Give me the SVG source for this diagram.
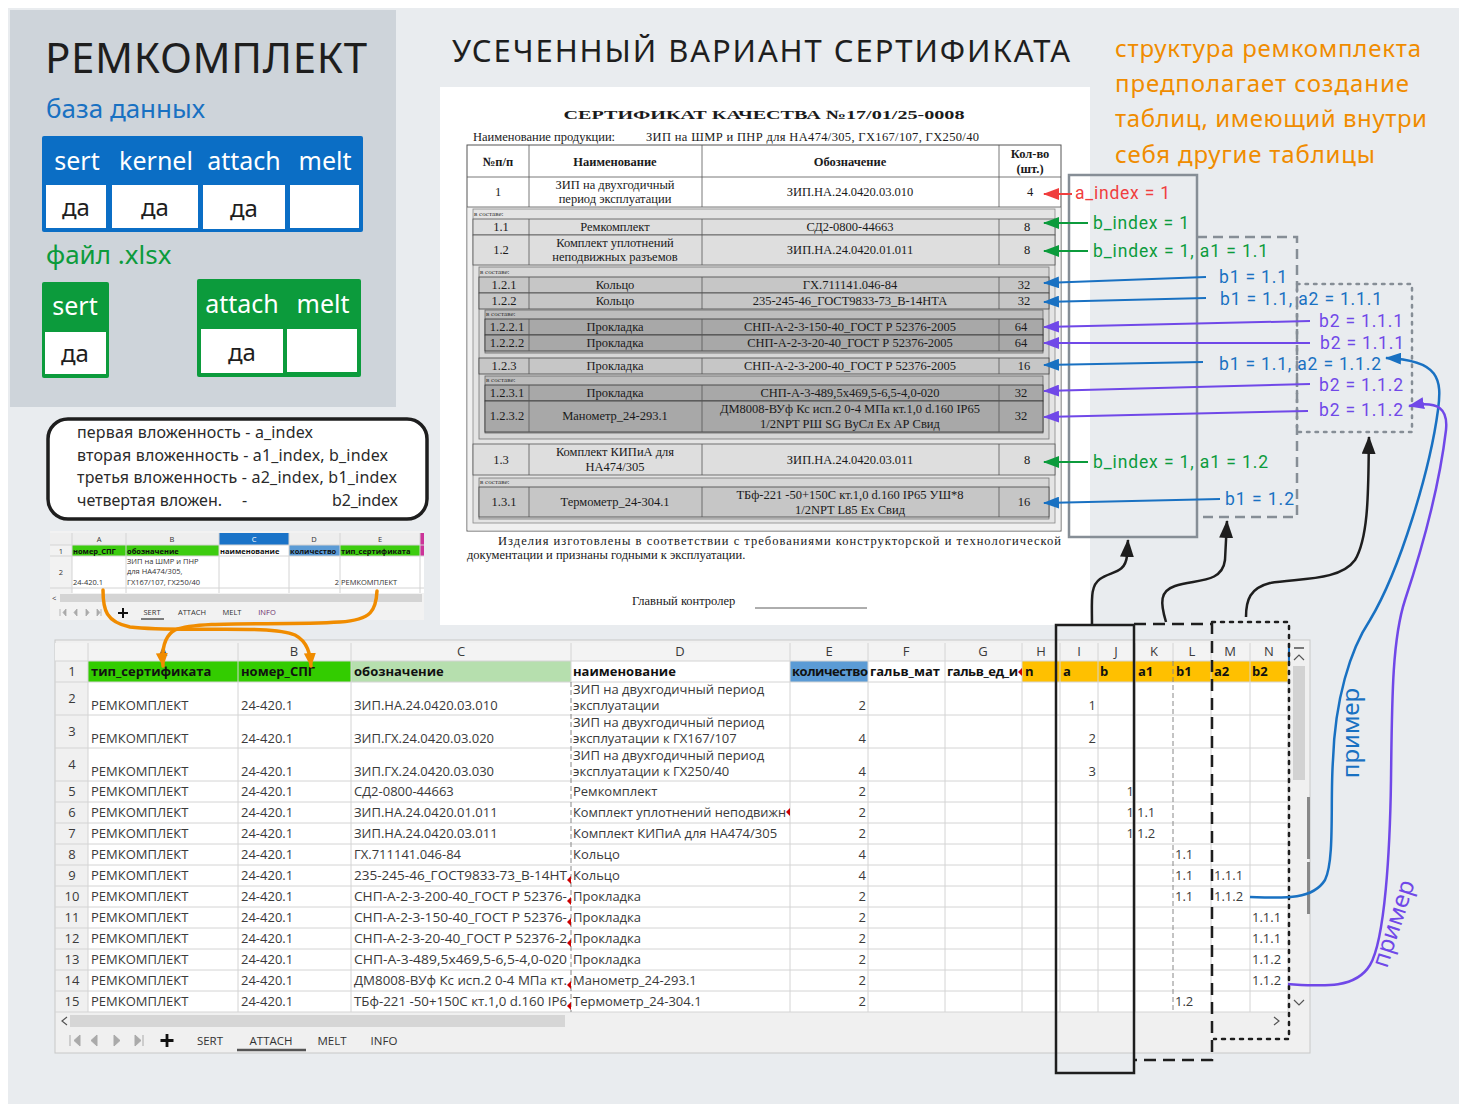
<svg xmlns="http://www.w3.org/2000/svg" width="1467" height="1111" viewBox="0 0 1467 1111">
<defs>
<style>
.h{font-family:"Noto Sans","Open Sans",sans-serif}
.s{font-family:"Liberation Serif","Times New Roman",serif;fill:#1a1a1a;font-size:12.5px}
.m{text-anchor:middle}
.e{text-anchor:end}
.b{font-weight:bold}
.vs{font-size:7px;fill:#333}
.x{font-family:"Open Sans","Noto Sans",sans-serif;fill:#3a3a3a;font-size:13px}
.xh{font-weight:bold;fill:#111}
.xs{font-family:"Open Sans","Noto Sans",sans-serif;fill:#333;font-size:7.5px}
.g{stroke:#d4d4d4;stroke-width:1;fill:none}
.ann{font-family:Roboto,"Noto Sans",sans-serif;font-size:17.5px}
.red{fill:#f03e3e}.grn{fill:#0c9b3c}.blu{fill:#1971c2}.pur{fill:#7048e8}
.lr{stroke:#f03e3e;stroke-width:2;fill:none}
.lg{stroke:#0c9b3c;stroke-width:2;fill:none}
.lb{stroke:#1971c2;stroke-width:2;fill:none}
.lp{stroke:#7048e8;stroke-width:2;fill:none}
.lk{stroke:#1e1e1e;stroke-width:2.5;fill:none}
.lo{stroke:#f08c00;stroke-width:3.5;fill:none;stroke-linecap:round}
.r2{fill:#dedede;stroke:#555;stroke-width:0.8}
.r3{fill:#c6c6c6;stroke:#444;stroke-width:0.8}
.r4{fill:#a8a8a8;stroke:#333;stroke-width:0.8}
.cl{stroke:#555;stroke-width:0.8}
.tab{font-family:"Open Sans","Noto Sans",sans-serif;fill:#333;font-size:11.5px}
</style>
<marker id="mR" viewBox="0 0 16 12" refX="15" refY="6" markerWidth="16" markerHeight="12" markerUnits="userSpaceOnUse" orient="auto"><path d="M0,0L16,6L0,12z" fill="#f03e3e"/></marker>
<marker id="mG" viewBox="0 0 16 12" refX="15" refY="6" markerWidth="16" markerHeight="12" markerUnits="userSpaceOnUse" orient="auto"><path d="M0,0L16,6L0,12z" fill="#0c9b3c"/></marker>
<marker id="mB" viewBox="0 0 16 12" refX="15" refY="6" markerWidth="16" markerHeight="12" markerUnits="userSpaceOnUse" orient="auto"><path d="M0,0L16,6L0,12z" fill="#1971c2"/></marker>
<marker id="mP" viewBox="0 0 16 12" refX="15" refY="6" markerWidth="16" markerHeight="12" markerUnits="userSpaceOnUse" orient="auto"><path d="M0,0L16,6L0,12z" fill="#7048e8"/></marker>
<marker id="mK" viewBox="0 0 18 14" refX="17" refY="7" markerWidth="18" markerHeight="14" markerUnits="userSpaceOnUse" orient="auto"><path d="M0,0L18,7L0,14z" fill="#1e1e1e"/></marker>
<marker id="mO" viewBox="0 0 14 12" refX="13" refY="6" markerWidth="14" markerHeight="12" markerUnits="userSpaceOnUse" orient="auto"><path d="M0,0L14,6L0,12z" fill="#f08c00"/></marker>
</defs>

<rect x="0" y="0" width="1467" height="1111" fill="#ffffff"/>
<rect x="8" y="8" width="1451" height="1096" fill="#e9ecef"/>

<!-- left panel -->
<g id="panel-remkomplekt">
<rect x="10" y="10" width="386" height="397" fill="#ced4da"/>
<text class="h" x="45" y="73" font-size="42" fill="#1e1e1e" textLength="322">РЕМКОМПЛЕКТ</text>
<text class="h" x="46" y="118" font-size="26" fill="#1971c2">база данных</text>
<g id="db-table">
<rect x="42" y="136" width="321" height="96" rx="2" fill="#0b6ec5"/>
<text class="h m" x="77" y="170" font-size="25" fill="#fff">sert</text>
<text class="h m" x="156" y="170" font-size="25" fill="#fff">kernel</text>
<text class="h m" x="244" y="170" font-size="25" fill="#fff">attach</text>
<text class="h m" x="325" y="170" font-size="25" fill="#fff">melt</text>
<rect x="46" y="185" width="60" height="43" fill="#fff"/>
<rect x="112" y="185" width="86" height="43" fill="#fff"/>
<rect x="203" y="185" width="82" height="44" fill="#fff"/>
<rect x="290" y="185" width="69" height="43" fill="#fff"/>
<text class="h m" x="76" y="216" font-size="24" fill="#1e1e1e">да</text>
<text class="h m" x="155" y="216" font-size="24" fill="#1e1e1e">да</text>
<text class="h m" x="244" y="217" font-size="24" fill="#1e1e1e">да</text>
</g>
<text class="h" x="46" y="264" font-size="26" fill="#0c9b3c">файл .xlsx</text>
<g id="xlsx-sert">
<rect x="42" y="282" width="67" height="96" rx="2" fill="#0c9b3c"/>
<text class="h m" x="75" y="315" font-size="25" fill="#fff">sert</text>
<rect x="45" y="332" width="61" height="42" fill="#fff"/>
<text class="h m" x="75" y="362" font-size="24" fill="#1e1e1e">да</text>
</g>
<g id="xlsx-attach-melt">
<rect x="197" y="279" width="164" height="98" rx="2" fill="#0c9b3c"/>
<text class="h m" x="242" y="313" font-size="25" fill="#fff">attach</text>
<text class="h m" x="323" y="313" font-size="25" fill="#fff">melt</text>
<rect x="201" y="329" width="82" height="44" fill="#fff"/>
<rect x="287" y="329" width="70" height="43" fill="#fff"/>
<text class="h m" x="242" y="361" font-size="24" fill="#1e1e1e">да</text>
</g>
</g>

<!-- note box -->
<g id="note">
<rect x="48" y="419" width="379" height="100" rx="20" fill="#fff" stroke="#1e1e1e" stroke-width="3.5"/>
<text class="h" x="77" y="438" font-size="16" fill="#2a2a2a" textLength="236">первая вложенность - a_index</text>
<text class="h" x="77" y="461" font-size="16" fill="#2a2a2a" textLength="311">вторая вложенность - a1_index, b_index</text>
<text class="h" x="77" y="483" font-size="16" fill="#2a2a2a" textLength="320">третья вложенность - a2_index, b1_index</text>
<text class="h" x="77" y="506" font-size="16" fill="#2a2a2a">четвертая вложен.</text>
<text class="h" x="242" y="506" font-size="16" fill="#2a2a2a">-</text>
<text class="h" x="332" y="506" font-size="16" fill="#2a2a2a" textLength="66">b2_index</text>
</g>

<!-- titles -->
<g id="title">
<text class="h" x="452" y="62" font-size="31" fill="#1e1e1e" textLength="618">УСЕЧЕННЫЙ ВАРИАНТ СЕРТИФИКАТА</text>
</g>
<g id="orange-note">
<text class="h" x="1115" y="57" font-size="24" fill="#f08c00" textLength="306">структура ремкомплекта</text>
<text class="h" x="1115" y="92" font-size="24" fill="#f08c00" textLength="294">предполагает создание</text>
<text class="h" x="1115" y="127" font-size="24" fill="#f08c00" textLength="312">таблиц, имеющий внутри</text>
<text class="h" x="1115" y="163" font-size="24" fill="#f08c00" textLength="260">себя другие таблицы</text>
</g>

<!-- certificate -->
<g id="certificate">
<rect x="440" y="87" width="650" height="538" fill="#fff"/>
<text class="s m b" x="764" y="119" font-size="22" textLength="401" lengthAdjust="spacingAndGlyphs">СЕРТИФИКАТ КАЧЕСТВА №17/01/25-0008</text>
<text class="s" x="473" y="141" font-size="11.5">Наименование продукции:</text>
<text class="s" x="646" y="141" font-size="11.5" textLength="333">ЗИП на ШМР и ПНР для НА474/305, ГХ167/107, ГХ250/40</text>
<rect x="467" y="145" width="594" height="386" fill="#fff" stroke="#555" stroke-width="1"/>
<rect x="467.5" y="207" width="593" height="323.5" fill="#f0f0f0"/>
<path class="cl" d="M467,177H1061M467,207H1061M529,145V207M702,145V207M999,145V207"/>
<text class="s m b" x="498" y="166" font-size="11.5">№п/п</text>
<text class="s m b" x="615" y="166" font-size="11.5">Наименование</text>
<text class="s m b" x="850" y="166" font-size="11.5">Обозначение</text>
<text class="s m b" x="1030" y="158" font-size="11.5">Кол-во</text>
<text class="s m b" x="1030" y="173" font-size="11.5">(шт.)</text>
<text class="s m" x="498" y="196">1</text>
<text class="s m" x="615" y="189">ЗИП на двухгодичный</text>
<text class="s m" x="615" y="203">период эксплуатации</text>
<text class="s m" x="850" y="196">ЗИП.НА.24.0420.03.010</text>
<text class="s m" x="1030" y="196">4</text>
<!-- level 2 container -->
<rect x="473" y="209" width="582" height="314" fill="#e4e4e4" stroke="#888" stroke-width="0.8"/>
<text class="s vs" x="474" y="216">в составе:</text>
<rect class="r2" x="473" y="219" width="582" height="16"/>
<rect class="r2" x="473" y="235" width="582" height="30"/>
<path class="cl" d="M529,219V265M702,219V265M999,219V265"/>
<text class="s m" x="501" y="231">1.1</text>
<text class="s m" x="615" y="231">Ремкомплект</text>
<text class="s m" x="850" y="231">СД2-0800-44663</text>
<text class="s m" x="1027" y="231">8</text>
<text class="s m" x="501" y="254">1.2</text>
<text class="s m" x="615" y="247">Комплект уплотнений</text>
<text class="s m" x="615" y="261">неподвижных разъемов</text>
<text class="s m" x="850" y="254">ЗИП.НА.24.0420.01.011</text>
<text class="s m" x="1027" y="254">8</text>
<!-- level 3 container a -->
<rect x="479" y="267" width="570" height="172" fill="#d6d6d6" stroke="#777" stroke-width="0.8"/>
<text class="s vs" x="480" y="274">в составе:</text>
<rect class="r3" x="479" y="277" width="570" height="16"/>
<rect class="r3" x="479" y="293" width="570" height="16"/>
<path class="cl" d="M529,277V309M702,277V309M999,277V309"/>
<text class="s m" x="504" y="289">1.2.1</text>
<text class="s m" x="615" y="289">Кольцо</text>
<text class="s m" x="850" y="289">ГХ.711141.046-84</text>
<text class="s m" x="1024" y="289">32</text>
<text class="s m" x="504" y="305">1.2.2</text>
<text class="s m" x="615" y="305">Кольцо</text>
<text class="s m" x="850" y="305">235-245-46_ГОСТ9833-73_В-14НТА</text>
<text class="s m" x="1024" y="305">32</text>
<!-- level 4 container a -->
<rect x="485" y="310" width="558" height="43" fill="#bdbdbd" stroke="#666" stroke-width="0.8"/>
<text class="s vs" x="486" y="316">в составе:</text>
<rect class="r4" x="485" y="319" width="558" height="16"/>
<rect class="r4" x="485" y="335" width="558" height="16"/>
<path class="cl" d="M529,319V351M702,319V351M999,319V351"/>
<text class="s m" x="507" y="331" font-size="11.5">1.2.2.1</text>
<text class="s m" x="615" y="331">Прокладка</text>
<text class="s m" x="850" y="331">СНП-А-2-3-150-40_ГОСТ Р 52376-2005</text>
<text class="s m" x="1021" y="331">64</text>
<text class="s m" x="507" y="347" font-size="11.5">1.2.2.2</text>
<text class="s m" x="615" y="347">Прокладка</text>
<text class="s m" x="850" y="347">СНП-А-2-3-20-40_ГОСТ Р 52376-2005</text>
<text class="s m" x="1021" y="347">64</text>
<rect class="r3" x="479" y="358" width="570" height="16"/>
<path class="cl" d="M529,358V374M702,358V374M999,358V374"/>
<text class="s m" x="504" y="370">1.2.3</text>
<text class="s m" x="615" y="370">Прокладка</text>
<text class="s m" x="850" y="370">СНП-А-2-3-200-40_ГОСТ Р 52376-2005</text>
<text class="s m" x="1024" y="370">16</text>
<!-- level 4 container b -->
<rect x="485" y="376" width="558" height="57" fill="#bdbdbd" stroke="#666" stroke-width="0.8"/>
<text class="s vs" x="486" y="382">в составе:</text>
<rect class="r4" x="485" y="385" width="558" height="16"/>
<rect class="r4" x="485" y="401" width="558" height="31"/>
<path class="cl" d="M529,385V432M702,385V432M999,385V432"/>
<text class="s m" x="507" y="397" font-size="11.5">1.2.3.1</text>
<text class="s m" x="615" y="397">Прокладка</text>
<text class="s m" x="850" y="397">СНП-А-3-489,5х469,5-6,5-4,0-020</text>
<text class="s m" x="1021" y="397">32</text>
<text class="s m" x="507" y="420" font-size="11.5">1.2.3.2</text>
<text class="s m" x="615" y="420">Манометр_24-293.1</text>
<text class="s m" x="850" y="413">ДМ8008-ВУф Кс исп.2 0-4 МПа кт.1,0 d.160 IP65</text>
<text class="s m" x="850" y="428">1/2NPT РШ SG ВуСл Ex АР Свид</text>
<text class="s m" x="1021" y="420">32</text>
<rect class="r2" x="473" y="444" width="582" height="31"/>
<path class="cl" d="M529,444V475M702,444V475M999,444V475"/>
<text class="s m" x="501" y="464">1.3</text>
<text class="s m" x="615" y="456">Комплект КИПиА для</text>
<text class="s m" x="615" y="471">НА474/305</text>
<text class="s m" x="850" y="464">ЗИП.НА.24.0420.03.011</text>
<text class="s m" x="1027" y="464">8</text>
<!-- level 3 container b -->
<rect x="479" y="478" width="570" height="41" fill="#d6d6d6" stroke="#777" stroke-width="0.8"/>
<text class="s vs" x="480" y="484">в составе:</text>
<rect class="r3" x="479" y="487" width="570" height="30"/>
<path class="cl" d="M529,487V517M702,487V517M999,487V517"/>
<text class="s m" x="504" y="506">1.3.1</text>
<text class="s m" x="615" y="506">Термометр_24-304.1</text>
<text class="s m" x="850" y="499">ТБф-221 -50+150С кт.1,0 d.160 IP65 УШ*8</text>
<text class="s m" x="850" y="514">1/2NPT L85 Ex Свид</text>
<text class="s m" x="1024" y="506">16</text>
<text class="s" x="498" y="545" textLength="563" lengthAdjust="spacing">Изделия изготовлены в соответствии с требованиями конструкторской и технологической</text>
<text class="s" x="467" y="559">документации и признаны годными к эксплуатации.</text>
<text class="s" x="632" y="605">Главный контролер</text>
<path d="M755,608H867" stroke="#333" stroke-width="0.8"/>
</g>

<!-- annotation boxes -->
<g id="annotation-frames">
<rect x="1069" y="175" width="128" height="362" fill="none" stroke="#868e96" stroke-width="2.5"/>
<path d="M1197,237H1297V517H1197" fill="none" stroke="#868e96" stroke-width="2.5" stroke-dasharray="10 6"/>
<rect x="1297" y="284" width="115" height="148" fill="none" stroke="#868e96" stroke-width="2.5" stroke-dasharray="2.5 6" stroke-linecap="round"/>
</g>

<g id="annotation-labels">
<text class="ann red" x="1075" y="199" textLength="95">a_index = 1</text>
<text class="ann grn" x="1093" y="229" textLength="96">b_index = 1</text>
<text class="ann grn" x="1093" y="257" textLength="175">b_index = 1, a1 = 1.1</text>
<text class="ann blu" x="1219" y="283" textLength="68">b1 = 1.1</text>
<text class="ann blu" x="1220" y="305" textLength="162">b1 = 1.1, a2 = 1.1.1</text>
<text class="ann pur" x="1319" y="327" textLength="84">b2 = 1.1.1</text>
<text class="ann pur" x="1320" y="349" textLength="84">b2 = 1.1.1</text>
<text class="ann blu" x="1219" y="370" textLength="162">b1 = 1.1, a2 = 1.1.2</text>
<text class="ann pur" x="1319" y="391" textLength="84">b2 = 1.1.2</text>
<text class="ann pur" x="1319" y="416" textLength="84">b2 = 1.1.2</text>
<text class="ann grn" x="1093" y="468" textLength="175">b_index = 1, a1 = 1.2</text>
<text class="ann blu" x="1225" y="505" textLength="69">b1 = 1.2</text>
</g>

<!-- small spreadsheet -->
<g id="sheet-sert">
<rect x="50" y="531" width="374" height="89" fill="#f2f2f2"/>
<rect x="72" y="545" width="352" height="48" fill="#fff"/>
<rect x="50" y="533" width="374" height="12" fill="#eeeeee"/>
<rect x="219" y="533" width="70" height="12" fill="#1a73c8"/>
<rect x="72" y="545" width="147" height="11" fill="#3dcc0f"/>
<rect x="289" y="545" width="51" height="11" fill="#5b9bd5"/>
<rect x="340" y="545" width="80" height="11" fill="#3dcc0f"/>
<rect x="420" y="533" width="4" height="23" fill="#cc3399"/>
<path class="g" d="M72,533V593M126,533V593M219,533V593M289,533V593M340,533V593M420,533V593M50,545H424M50,556H424M50,588H424"/>
<text class="xs m" x="99" y="542">A</text>
<text class="xs m" x="172" y="542">B</text>
<text class="xs m" x="254" y="542" style="fill:#fff">C</text>
<text class="xs m" x="314" y="542">D</text>
<text class="xs m" x="380" y="542">E</text>
<text class="xs m" x="61" y="554">1</text>
<text class="xs m" x="61" y="575">2</text>
<text class="xs b" x="73" y="554" style="fill:#111">номер_СПГ</text>
<text class="xs b" x="127" y="554" style="fill:#111">обозначение</text>
<text class="xs b" x="220" y="554" style="fill:#111">наименование</text>
<text class="xs b" x="290" y="554" style="fill:#111">количество</text>
<text class="xs b" x="341" y="554" style="fill:#111">тип_сертификата</text>
<text class="xs" x="73" y="585">24-420.1</text>
<text class="xs" x="127" y="564">ЗИП на ШМР и ПНР</text>
<text class="xs" x="127" y="574">для НА474/305,</text>
<text class="xs" x="127" y="585">ГХ167/107, ГХ250/40</text>
<text class="xs e" x="339" y="585">2</text>
<text class="xs" x="341" y="585">РЕМКОМПЛЕКТ</text>
<rect x="60" y="594" width="362" height="8" fill="#d4d4d4"/>
<text class="xs" x="52" y="601">&lt;</text>
<path d="M60,609V616M63,612.5L66,609V616zM77,609L74,612.5L77,616zM86,609L89,612.5L86,616zM97,609L100,612.5L97,616zM101,609V616" stroke="#aaa" stroke-width="0.8" fill="#aaa"/>
<path d="M123,608V618M118,613H128" stroke="#111" stroke-width="2"/>
<text class="xs m" x="152" y="615" font-size="7">SERT</text>
<path d="M141,619H164" stroke="#555" stroke-width="1.5"/>
<text class="xs m" x="192" y="615" font-size="7">ATTACH</text>
<text class="xs m" x="232" y="615" font-size="7">MELT</text>
<text class="xs m" x="267" y="615" font-size="7" style="fill:#6b2d6b">INFO</text>
</g>

<!-- big spreadsheet -->
<g id="sheet-attach">
<rect x="55" y="640" width="1255" height="413" fill="#f0f0f0" stroke="#c8c8c8" stroke-width="1"/>
<rect x="88" y="661" width="1200" height="351" fill="#fff"/>
<rect x="55" y="643" width="1233" height="18" fill="#f3f3f3"/>
<rect x="88" y="661" width="263" height="21" fill="#33cc00"/>
<rect x="351" y="661" width="220" height="21" fill="#b6dfae"/>
<rect x="790" y="661" width="78" height="21" fill="#5b9bd5"/>
<rect x="1022" y="661" width="266" height="21" fill="#ffc000"/>
<path class="g" d="M88,643V1012M238,643V1012M351,643V1012M571,643V682M790,643V1012M868,643V1012M945,643V1012M1022,643V1012M1060,643V1012M1098,643V1012M1135,643V1012M1211,643V1012M1250,643V1012M1288,643V1012M1173,643V661"/>
<path class="g" d="M55,661H1288M55,682H1288M55,715H1288M55,748H1288M55,781H1288M55,802H1288M55,823H1288M55,844H1288M55,865H1288M55,886H1288M55,907H1288M55,928H1288M55,949H1288M55,970H1288M55,991H1288M55,1012H1288"/>
<path d="M571,682V1012M1173,661V1012" stroke="#888" stroke-width="1" stroke-dasharray="5 3"/>
<g>
<text class="x m" x="163" y="656">A</text><text class="x m" x="294" y="656">B</text><text class="x m" x="461" y="656">C</text><text class="x m" x="680" y="656">D</text><text class="x m" x="829" y="656">E</text><text class="x m" x="906" y="656">F</text><text class="x m" x="983" y="656">G</text><text class="x m" x="1041" y="656">H</text><text class="x m" x="1079" y="656">I</text><text class="x m" x="1116" y="656">J</text><text class="x m" x="1154" y="656">K</text><text class="x m" x="1192" y="656">L</text><text class="x m" x="1230" y="656">M</text><text class="x m" x="1269" y="656">N</text>
</g>
<g>
<text class="x m" x="72" y="676">1</text><text class="x m" x="72" y="703">2</text><text class="x m" x="72" y="736">3</text><text class="x m" x="72" y="769">4</text><text class="x m" x="72" y="796">5</text><text class="x m" x="72" y="817">6</text><text class="x m" x="72" y="838">7</text><text class="x m" x="72" y="859">8</text><text class="x m" x="72" y="880">9</text><text class="x m" x="72" y="901">10</text><text class="x m" x="72" y="922">11</text><text class="x m" x="72" y="943">12</text><text class="x m" x="72" y="964">13</text><text class="x m" x="72" y="985">14</text><text class="x m" x="72" y="1006">15</text>
</g>
<g>
<text class="x xh" x="91" y="676">тип_сертификата</text>
<text class="x xh" x="241" y="676">номер_СПГ</text>
<text class="x xh" x="354" y="676">обозначение</text>
<text class="x xh" x="573" y="676">наименование</text>
<text class="x xh" x="792" y="676" textLength="76">количество</text>
<text class="x xh" x="870" y="676">гальв_мат</text>
<text class="x xh" x="947" y="676" textLength="71">гальв_ед_и</text>
<text class="x xh" x="1025" y="676">n</text>
<text class="x xh" x="1063" y="676">a</text>
<text class="x xh" x="1100" y="676">b</text>
<text class="x xh" x="1138" y="676">a1</text>
<text class="x xh" x="1176" y="676">b1</text>
<text class="x xh" x="1214" y="676">a2</text>
<text class="x xh" x="1252" y="676">b2</text>
</g>
<path d="M1022,668L1018,672L1022,676z" fill="#c00"/>
<g>
<text class="x" x="91" y="710">РЕМКОМПЛЕКТ</text><text class="x" x="241" y="710">24-420.1</text>
<text class="x" x="91" y="743">РЕМКОМПЛЕКТ</text><text class="x" x="241" y="743">24-420.1</text>
<text class="x" x="91" y="776">РЕМКОМПЛЕКТ</text><text class="x" x="241" y="776">24-420.1</text>
<text class="x" x="91" y="796">РЕМКОМПЛЕКТ</text><text class="x" x="241" y="796">24-420.1</text>
<text class="x" x="91" y="817">РЕМКОМПЛЕКТ</text><text class="x" x="241" y="817">24-420.1</text>
<text class="x" x="91" y="838">РЕМКОМПЛЕКТ</text><text class="x" x="241" y="838">24-420.1</text>
<text class="x" x="91" y="859">РЕМКОМПЛЕКТ</text><text class="x" x="241" y="859">24-420.1</text>
<text class="x" x="91" y="880">РЕМКОМПЛЕКТ</text><text class="x" x="241" y="880">24-420.1</text>
<text class="x" x="91" y="901">РЕМКОМПЛЕКТ</text><text class="x" x="241" y="901">24-420.1</text>
<text class="x" x="91" y="922">РЕМКОМПЛЕКТ</text><text class="x" x="241" y="922">24-420.1</text>
<text class="x" x="91" y="943">РЕМКОМПЛЕКТ</text><text class="x" x="241" y="943">24-420.1</text>
<text class="x" x="91" y="964">РЕМКОМПЛЕКТ</text><text class="x" x="241" y="964">24-420.1</text>
<text class="x" x="91" y="985">РЕМКОМПЛЕКТ</text><text class="x" x="241" y="985">24-420.1</text>
<text class="x" x="91" y="1006">РЕМКОМПЛЕКТ</text><text class="x" x="241" y="1006">24-420.1</text>
</g>
<g>
<text class="x" x="354" y="710">ЗИП.НА.24.0420.03.010</text>
<text class="x" x="354" y="743">ЗИП.ГХ.24.0420.03.020</text>
<text class="x" x="354" y="776">ЗИП.ГХ.24.0420.03.030</text>
<text class="x" x="354" y="796">СД2-0800-44663</text>
<text class="x" x="354" y="817">ЗИП.НА.24.0420.01.011</text>
<text class="x" x="354" y="838">ЗИП.НА.24.0420.03.011</text>
<text class="x" x="354" y="859">ГХ.711141.046-84</text>
<text class="x" x="354" y="880" textLength="213" lengthAdjust="spacingAndGlyphs">235-245-46_ГОСТ9833-73_В-14НТ</text>
<text class="x" x="354" y="901" textLength="213" lengthAdjust="spacingAndGlyphs">СНП-А-2-3-200-40_ГОСТ Р 52376-</text>
<text class="x" x="354" y="922" textLength="213" lengthAdjust="spacingAndGlyphs">СНП-А-2-3-150-40_ГОСТ Р 52376-</text>
<text class="x" x="354" y="943" textLength="213" lengthAdjust="spacingAndGlyphs">СНП-А-2-3-20-40_ГОСТ Р 52376-2</text>
<text class="x" x="354" y="964" textLength="213" lengthAdjust="spacingAndGlyphs">СНП-А-3-489,5х469,5-6,5-4,0-020</text>
<text class="x" x="354" y="985" textLength="213" lengthAdjust="spacingAndGlyphs">ДМ8008-ВУф Кс исп.2 0-4 МПа кт.</text>
<text class="x" x="354" y="1006" textLength="213" lengthAdjust="spacingAndGlyphs">ТБф-221 -50+150С кт.1,0 d.160 IP6</text>
<path d="M571,876L567,880L571,884zM571,897L567,901L571,905zM571,918L567,922L571,926zM571,939L567,943L571,947zM571,981L567,985L571,989zM571,1002L567,1006L571,1010z" fill="#c00"/>
</g>
<g>
<text class="x" x="573" y="694">ЗИП на двухгодичный период</text>
<text class="x" x="573" y="710">эксплуатации</text>
<text class="x" x="573" y="727">ЗИП на двухгодичный период</text>
<text class="x" x="573" y="743">эксплуатации к ГХ167/107</text>
<text class="x" x="573" y="760">ЗИП на двухгодичный период</text>
<text class="x" x="573" y="776">эксплуатации к ГХ250/40</text>
<text class="x" x="573" y="796">Ремкомплект</text>
<text class="x" x="573" y="817" textLength="213" lengthAdjust="spacingAndGlyphs">Комплект уплотнений неподвижн</text>
<text class="x" x="573" y="838">Комплект КИПиА для НА474/305</text>
<text class="x" x="573" y="859">Кольцо</text>
<text class="x" x="573" y="880">Кольцо</text>
<text class="x" x="573" y="901">Прокладка</text>
<text class="x" x="573" y="922">Прокладка</text>
<text class="x" x="573" y="943">Прокладка</text>
<text class="x" x="573" y="964">Прокладка</text>
<text class="x" x="573" y="985">Манометр_24-293.1</text>
<text class="x" x="573" y="1006">Термометр_24-304.1</text>
<path d="M790,808L786,812L790,816z" fill="#c00"/>
</g>
<g>
<text class="x e" x="866" y="710">2</text><text class="x e" x="866" y="743">4</text><text class="x e" x="866" y="776">4</text><text class="x e" x="866" y="796">2</text><text class="x e" x="866" y="817">2</text><text class="x e" x="866" y="838">2</text><text class="x e" x="866" y="859">4</text><text class="x e" x="866" y="880">4</text><text class="x e" x="866" y="901">2</text><text class="x e" x="866" y="922">2</text><text class="x e" x="866" y="943">2</text><text class="x e" x="866" y="964">2</text><text class="x e" x="866" y="985">2</text><text class="x e" x="866" y="1006">2</text>
<text class="x e" x="1096" y="710">1</text><text class="x e" x="1096" y="743">2</text><text class="x e" x="1096" y="776">3</text>
<text class="x e" x="1134" y="796">1</text><text class="x e" x="1134" y="817">1</text><text class="x e" x="1134" y="838">1</text>
<text class="x" x="1137" y="817">1.1</text><text class="x" x="1137" y="838">1.2</text>
<text class="x" x="1175" y="859">1.1</text><text class="x" x="1175" y="880">1.1</text><text class="x" x="1175" y="901">1.1</text><text class="x" x="1175" y="1006">1.2</text>
<text class="x" x="1214" y="880">1.1.1</text><text class="x" x="1214" y="901">1.1.2</text>
<text class="x" x="1252" y="922">1.1.1</text><text class="x" x="1252" y="943">1.1.1</text><text class="x" x="1252" y="964">1.1.2</text><text class="x" x="1252" y="985">1.1.2</text>
</g>
<rect x="1290" y="643" width="18" height="369" fill="#f0f0f0"/>
<rect x="1293" y="666" width="12" height="114" fill="#d2d2d2"/>
<path d="M1294,660L1299,655L1304,660M1294,1000L1299,1005L1304,1000" stroke="#555" stroke-width="1.2" fill="none"/>
<path d="M1289,644V661" stroke="#1a73c8" stroke-width="2"/>
<path d="M1294,648H1304" stroke="#777" stroke-width="2"/>
<rect x="1307" y="797" width="3" height="62" fill="#888"/>
<rect x="1307" y="862" width="3" height="52" fill="#888"/>
<rect x="70" y="1015" width="495" height="12" fill="#d6d6d6"/>
<path d="M67,1017L62,1021L67,1025M1274,1017L1279,1021L1274,1025" stroke="#555" stroke-width="1.2" fill="none"/>
<path d="M70,1035V1046M80,1035L74,1040.5L80,1046zM97,1035L91,1040.5L97,1046zM114,1035L120,1040.5L114,1046zM135,1035L141,1040.5L135,1046zM143,1035V1046" stroke="#aaa" stroke-width="1" fill="#aaa"/>
<path d="M167,1034V1047M160.5,1040.5H173.5" stroke="#111" stroke-width="2.8"/>
<text class="tab m" x="210" y="1045">SERT</text>
<text class="tab m" x="271" y="1045">ATTACH</text>
<text class="tab m" x="332" y="1045">MELT</text>
<text class="tab m" x="384" y="1045">INFO</text>
<path d="M237,1050H306" stroke="#555" stroke-width="2.5"/>
</g>

<!-- black column-group frames -->
<g id="column-frames">
<rect x="1056" y="625" width="78" height="448" fill="none" stroke="#1e1e1e" stroke-width="2.5"/>
<path d="M1134,624H1212V1060H1134" fill="none" stroke="#1e1e1e" stroke-width="2.5" stroke-dasharray="12 7"/>
<path d="M1212,622H1289V1039H1214" fill="none" stroke="#1e1e1e" stroke-width="2.5" stroke-dasharray="3 6" stroke-linecap="round"/>
</g>

<!-- connectors -->
<g id="connectors">
<path class="lr" d="M1072,194H1044" marker-end="url(#mR)"/>
<path class="lg" d="M1088,223H1044" marker-end="url(#mG)"/>
<path class="lg" d="M1088,251H1044" marker-end="url(#mG)"/>
<path class="lg" d="M1088,462H1044" marker-end="url(#mG)"/>
<path class="lb" d="M1206,277L1044,283" marker-end="url(#mB)"/>
<path class="lb" d="M1206,298L1044,302" marker-end="url(#mB)"/>
<path class="lb" d="M1203,362L1044,365" marker-end="url(#mB)"/>
<path class="lb" d="M1220,499L1044,503" marker-end="url(#mB)"/>
<path class="lp" d="M1310,321L1044,327" marker-end="url(#mP)"/>
<path class="lp" d="M1310,343L1044,343" marker-end="url(#mP)"/>
<path class="lp" d="M1310,384L1044,391" marker-end="url(#mP)"/>
<path class="lp" d="M1308,411L1044,417" marker-end="url(#mP)"/>
<path class="lk" d="M1092,624C1092,600 1090,586 1100,579C1111,571 1125,574 1127,556L1128,540" marker-end="url(#mK)"/>
<path class="lk" d="M1166,622C1160,602 1160,591 1175,586C1195,579 1222,584 1225,560L1227,521" marker-end="url(#mK)"/>
<path class="lk" d="M1246,617C1246,600 1250,588 1270,583C1300,578 1340,581 1355,560C1370,535 1368,480 1369,437" marker-end="url(#mK)"/>
<path class="lo" d="M103,590C103,610 106,622 130,627C180,633 270,624 295,635C308,642 310,654 311,666" marker-end="url(#mO)"/>
<path class="lo" d="M377,591C376,610 372,620 340,622C280,626 200,620 175,630C162,637 162,654 163,666" marker-end="url(#mO)"/>
<path d="M1250,897C1280,898 1312,901 1325,880C1335,860 1330,800 1333,760C1335,700 1350,650 1370,620C1400,570 1430,470 1438,410C1442,380 1440,360 1386,358" fill="none" stroke="#1971c2" stroke-width="2.5" marker-end="url(#mB)"/>
<path d="M1288,984C1320,986 1355,990 1370,965C1385,940 1390,850 1391,780C1392,700 1392,640 1405,600C1425,540 1440,480 1446,430C1448,410 1440,400 1409,406" fill="none" stroke="#7048e8" stroke-width="2.5" marker-end="url(#mP)"/>
<text class="h m" x="1359" y="733" font-size="24" fill="#1971c2" transform="rotate(-90 1359 733)">пример</text>
<text class="h m" x="1401" y="926" font-size="24" fill="#7048e8" transform="rotate(-72 1401 926)">пример</text>
</g>
</svg>
